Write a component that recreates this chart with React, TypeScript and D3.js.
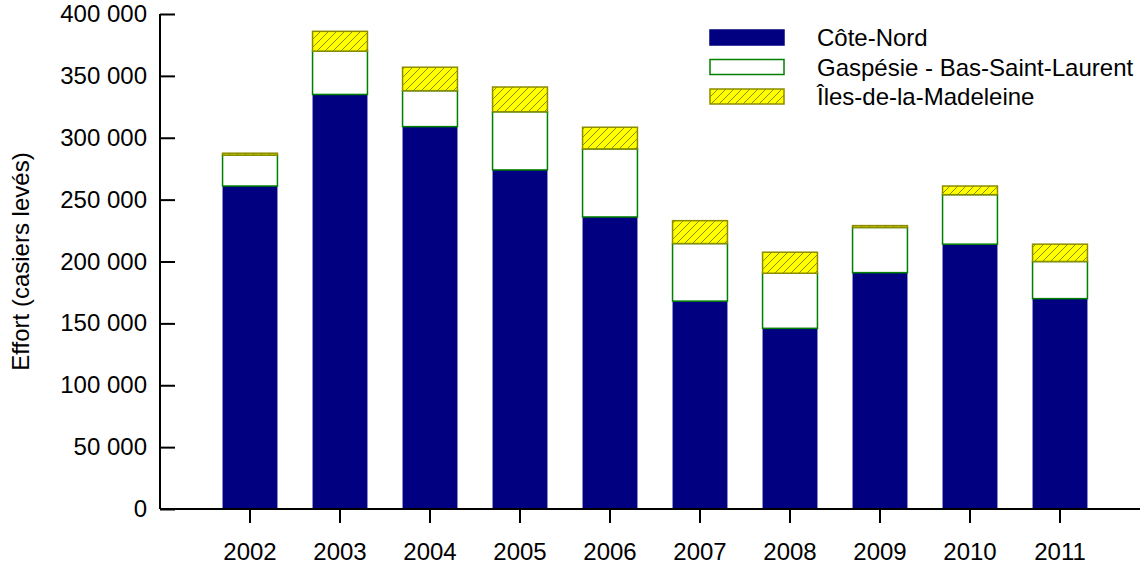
import * as React from "react"
import * as d3 from "d3"

const years = ["2002", "2003", "2004", "2005", "2006", "2007", "2008", "2009", "2010", "2011"]
const coteNord = [261000, 335000, 309000, 274000, 236000, 168000, 146000, 191000, 214000, 170000]
const gaspesie = [25000, 35000, 29000, 47000, 55000, 46500, 44500, 36500, 40000, 30000]
const iles = [1500, 16000, 19000, 20000, 17500, 18500, 17000, 1500, 7000, 14000]
const seriesNames = ["Côte-Nord", "Gaspésie - Bas-Saint-Laurent", "Îles-de-la-Madeleine"]
const yTicks = [0, 50000, 100000, 150000, 200000, 250000, 300000, 350000, 400000]

const fills = ["#000080", "#ffffff", "url(#hatch)"]
const strokes = ["#000080", "#008000", "#8c8c00"]

function render(svgRef: React.RefObject<SVGSVGElement>) {
  const width = 1140
  const height = 564
  const margin = { top: 14, right: 0, bottom: 55, left: 160 }

  const svg = d3.select(svgRef.current).attr("width", width).attr("height", height)
  svg.selectAll("*").remove()

  const defs = svg.append("defs")
  const pat = defs
    .append("pattern")
    .attr("id", "hatch")
    .attr("patternUnits", "userSpaceOnUse")
    .attr("width", 8)
    .attr("height", 8)
  pat.append("rect").attr("width", 8).attr("height", 8).attr("fill", "#ffff00")
  pat
    .append("path")
    .attr("d", "M-2,2 L2,-2 M0,8 L8,0 M6,10 L10,6")
    .attr("stroke", "#8c8c00")
    .attr("stroke-width", 1)

  const font = "Liberation Sans, Arial, sans-serif"
  const fs = 24

  const x = d3
    .scaleBand()
    .domain(years)
    .range([205, 1105])
    .paddingInner(0.39)
    .paddingOuter(0.195)

  const y = d3
    .scaleLinear()
    .domain([0, 400000])
    .range([height - margin.bottom, margin.top])

  const rows = years.map((yr, i) => ({ year: yr, cote: coteNord[i], gasp: gaspesie[i], iles: iles[i] }))
  const stacked = d3.stack<any>().keys(["cote", "gasp", "iles"])(rows)

  const g = svg.append("g")
  stacked.forEach((layer, li) => {
    g.selectAll(".s" + li)
      .data(layer)
      .join("rect")
      .attr("class", "s" + li)
      .attr("x", (d) => x(d.data.year)!)
      .attr("width", x.bandwidth())
      .attr("y", (d) => y(d[1]))
      .attr("height", (d) => y(d[0]) - y(d[1]))
      .attr("fill", fills[li])
      .attr("stroke", strokes[li])
      .attr("stroke-width", li === 0 ? 0 : 1.5)
  })

  // y axis
  const yAxis = svg
    .append("g")
    .attr("transform", `translate(${margin.left},0)`)
    .call(d3.axisRight(y).tickValues(yTicks).tickSize(15).tickFormat(() => ""))
  yAxis.select(".domain").attr("stroke-width", 2).attr("d", `M0,${y(400000)}V${y(0)}`)
  yAxis.selectAll(".tick line").attr("stroke-width", 2)

  svg
    .append("g")
    .selectAll("text")
    .data(yTicks)
    .join("text")
    .attr("x", margin.left - 13)
    .attr("y", (d) => y(d) + 8)
    .attr("text-anchor", "end")
    .attr("font-family", font)
    .attr("font-size", fs)
    .text((d) => d3.format(",")(d).replace(/,/g, " "))

  // x axis
  const xAxis = svg
    .append("g")
    .attr("transform", `translate(0,${y(0)})`)
    .call(d3.axisBottom(x).tickSize(14).tickSizeOuter(0))
  xAxis.select(".domain").attr("stroke-width", 2).attr("d", `M${margin.left},0H${width}`)
  xAxis.selectAll(".tick line").attr("stroke-width", 2)
  xAxis
    .selectAll(".tick text")
    .attr("font-family", font)
    .attr("font-size", fs)
    .attr("fill", "#000")
    .attr("dy", 0)
    .attr("y", 51)

  svg
    .append("text")
    .attr("transform", `translate(29,${(y(0) + y(400000)) / 2}) rotate(-90)`)
    .attr("text-anchor", "middle")
    .attr("font-family", font)
    .attr("font-size", fs)
    .text("Effort (casiers levés)")

  // legend
  const leg = svg
    .append("g")
    .selectAll("g")
    .data(seriesNames)
    .join("g")
    .attr("transform", (d, i) => `translate(710,${30 + i * 29.5})`)
  leg
    .append("rect")
    .attr("width", 74)
    .attr("height", 15)
    .attr("fill", (d, i) => fills[i])
    .attr("stroke", (d, i) => strokes[i])
    .attr("stroke-width", 1.5)
  leg
    .append("text")
    .attr("x", 107)
    .attr("y", 16)
    .attr("font-family", font)
    .attr("font-size", fs)
    .text((d) => d)
}

export default function App(): React.JSX.Element {
  const svg = React.useRef<SVGSVGElement>(null)

  React.useEffect(() => {
    render(svg)
  }, [])

  return (
    <div style={{ position: "absolute", left: 0, top: 0 }}>
      <svg ref={svg} style={{ display: "block" }}></svg>
    </div>
  )
}
